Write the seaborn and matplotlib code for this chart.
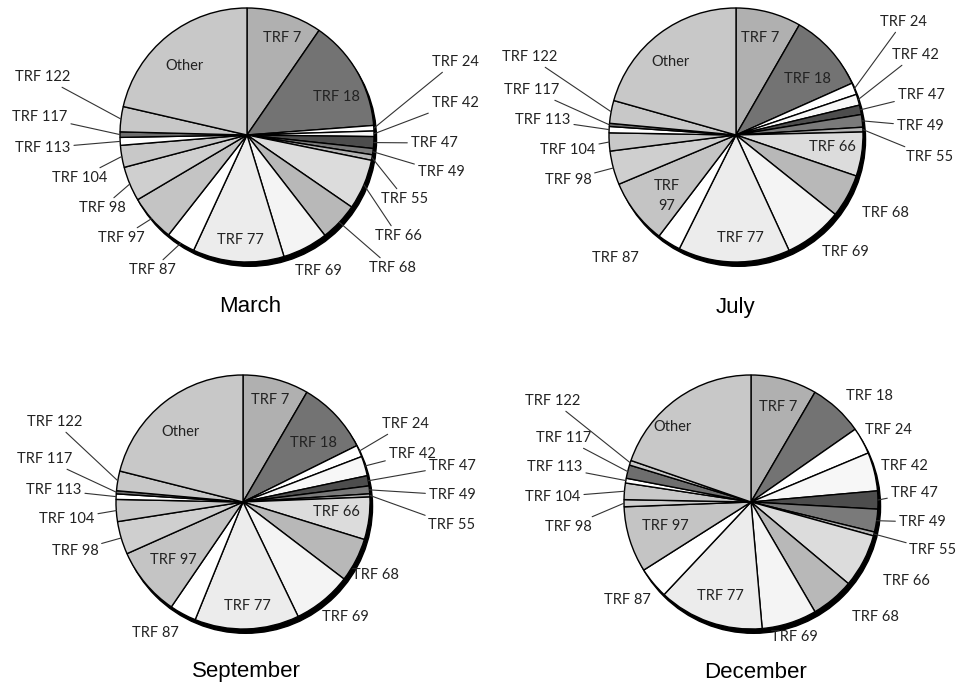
import numpy as np
import matplotlib
matplotlib.use("Agg")
import matplotlib.pyplot as plt
from matplotlib.patches import Circle
import seaborn as sns

sns.set_theme(style="white")
plt.rcParams["font.family"] = ["Lato", "DejaVu Sans"]

# slices, clockwise from 12 o'clock (share of isolates, %)
strains = ["TRF 7", "TRF 18", "TRF 24", "TRF 42", "TRF 47", "TRF 49", "TRF 55",
           "TRF 66", "TRF 68", "TRF 69", "TRF 77", "TRF 87", "TRF 97", "TRF 98",
           "TRF 104", "TRF 113", "TRF 117", "TRF 122", "Other"]
months = ["March", "July", "September", "December"]

march = [9.6, 14.2, 0.7, 0.7, 1.5, 0.8, 0.7, 6.4, 4.9, 5.8, 11.6, 3.7, 5.9, 4.4,
         2.8, 1.0, 0.7, 3.2, 21.4]
july = [8.3, 10.0, 1.5, 1.4, 1.2, 1.6, 0.6, 5.6, 5.5, 7.4, 14.2, 3.0, 8.3, 4.3,
        2.3, 0.8, 0.4, 2.9, 20.6]
september = [8.4, 9.3, 1.5, 2.5, 1.3, 1.0, 0.4, 5.4, 5.6, 7.5, 13.3, 3.4, 8.8, 4.2,
             2.8, 0.7, 0.4, 2.5, 21.1]
december = [8.4, 6.9, 3.4, 4.9, 2.3, 2.9, 0.5, 6.8, 5.5, 7.0, 13.4, 4.0, 8.4, 0.9,
            2.1, 0.6, 1.7, 0.6, 19.7]
values = [march, july, september, december]

grey = {"TRF 7": "#b0b0b0", "TRF 18": "#737373", "TRF 24": "#ffffff", "TRF 42": "#f7f7f7",
        "TRF 47": "#4d4d4d", "TRF 49": "#7a7a7a", "TRF 55": "#b5b5b5", "TRF 66": "#dcdcdc",
        "TRF 68": "#b8b8b8", "TRF 69": "#f4f4f4", "TRF 77": "#ececec", "TRF 87": "#ffffff",
        "TRF 97": "#c4c4c4", "TRF 98": "#cfcfcf", "TRF 104": "#c8c8c8", "TRF 113": "#ffffff",
        "TRF 117": "#6e6e6e", "TRF 122": "#c8c8c8", "Other": "#c8c8c8"}

W, H = 970, 686
R = 127
centers = [(247, 135), (736, 135), (243, 502), (751, 502)]
title_pos = [(250, 307), (735, 307), (246, 672), (756, 672)]

# label positions in figure pixels (from top-left), leader line yes/no
layout = [
    {"Other": (185, 66, 0), "TRF 7": (282, 38, 0), "TRF 18": (336, 97, 0), "TRF 77": (240, 240, 0),
     "TRF 24": (455, 62, 1), "TRF 42": (455, 103, 1), "TRF 47": (434, 143, 1), "TRF 49": (441, 172, 1),
     "TRF 55": (405, 199, 1), "TRF 66": (398, 236, 1), "TRF 68": (392, 268, 1), "TRF 69": (318, 271, 0),
     "TRF 87": (152, 270, 1), "TRF 97": (121, 238, 1), "TRF 98": (102, 208, 1), "TRF 104": (80, 178, 1),
     "TRF 113": (43, 148, 1), "TRF 117": (40, 117, 1), "TRF 122": (43, 77, 1)},
    {"Other": (670, 62, 0), "TRF 7": (760, 38, 0), "TRF 18": (807, 79, 0), "TRF 66": (832, 147, 0),
     "TRF 97": (667, 196, 0), "TRF 77": (740, 238, 0),
     "TRF 24": (903, 22, 1), "TRF 42": (915, 55, 1), "TRF 47": (921, 95, 1), "TRF 49": (920, 126, 1),
     "TRF 55": (930, 157, 1), "TRF 68": (885, 213, 0), "TRF 69": (845, 252, 0), "TRF 87": (615, 258, 0),
     "TRF 98": (568, 180, 1), "TRF 104": (568, 150, 1), "TRF 113": (543, 120, 1),
     "TRF 117": (532, 90, 1), "TRF 122": (530, 57, 1)},
    {"Other": (180, 432, 0), "TRF 7": (270, 400, 0), "TRF 18": (313, 443, 0), "TRF 66": (336, 512, 0),
     "TRF 97": (173, 560, 0), "TRF 77": (247, 606, 0),
     "TRF 24": (405, 424, 1), "TRF 42": (412, 454, 1), "TRF 47": (452, 466, 1), "TRF 49": (452, 495, 1),
     "TRF 55": (452, 525, 1), "TRF 68": (375, 575, 0), "TRF 69": (345, 617, 0), "TRF 87": (155, 633, 0),
     "TRF 98": (75, 551, 1), "TRF 104": (67, 519, 1), "TRF 113": (54, 490, 1),
     "TRF 117": (45, 459, 1), "TRF 122": (55, 422, 1)},
    {"Other": (672, 427, 0), "TRF 7": (778, 407, 0), "TRF 77": (720, 596, 0), "TRF 97": (665, 526, 0),
     "TRF 18": (869, 396, 0), "TRF 24": (888, 430, 0), "TRF 42": (904, 466, 0), "TRF 47": (914, 493, 1),
     "TRF 49": (922, 522, 1), "TRF 55": (933, 550, 1), "TRF 66": (906, 581, 0), "TRF 68": (875, 617, 0),
     "TRF 69": (794, 637, 0), "TRF 87": (627, 600, 0),
     "TRF 98": (568, 527, 1), "TRF 104": (553, 497, 1), "TRF 113": (555, 467, 1),
     "TRF 117": (564, 438, 1), "TRF 122": (553, 401, 1)},
]
multiline = {(1, "TRF 97"): "TRF\n97"}

fig = plt.figure(figsize=(W / 100, H / 100), dpi=100)
fig.patch.set_facecolor("white")

pad = 1.05
for k, month in enumerate(months):
    cx, cy = centers[k]
    ax = fig.add_axes([(cx - pad * R) / W, (H - cy - pad * R) / H, 2 * pad * R / W, 2 * pad * R / H])
    # dark rim on the lower right, like the original's 3D shading
    ax.add_patch(Circle((0.02, -0.034), 1.0, color="black", zorder=0))
    wedges, _ = ax.pie(values[k], colors=[grey[s] for s in strains], startangle=90,
                       counterclock=False, radius=1.0,
                       wedgeprops=dict(edgecolor="black", linewidth=1.0))
    ax.set_xlim(-pad, pad)
    ax.set_ylim(-pad, pad)
    ax.set_aspect("equal")
    ax.axis("off")
    for w, s in zip(wedges, strains):
        x, y, lead = layout[k][s]
        txt = multiline.get((k, s), s)
        if lead:
            mid = np.deg2rad((w.theta1 + w.theta2) / 2)
            ax.annotate(txt, xy=(np.cos(mid), np.sin(mid)), xycoords="data",
                        xytext=(x, H - y), textcoords="figure pixels",
                        ha="center", va="center", fontsize=10.5, color="#222222",
                        arrowprops=dict(arrowstyle="-", color="#333333", lw=0.8,
                                        shrinkA=0, shrinkB=0))
        else:
            ax.annotate(txt, xy=(x, H - y), xycoords="figure pixels",
                        ha="center", va="center", fontsize=10.5, color="#222222",
                        linespacing=1.6)
    tx, ty = title_pos[k]
    fig.text(tx / W, 1 - ty / H, month, ha="center", va="center", fontsize=16,
             family="Liberation Sans", color="black")

fig.savefig("out.png", dpi=100, facecolor="white")
